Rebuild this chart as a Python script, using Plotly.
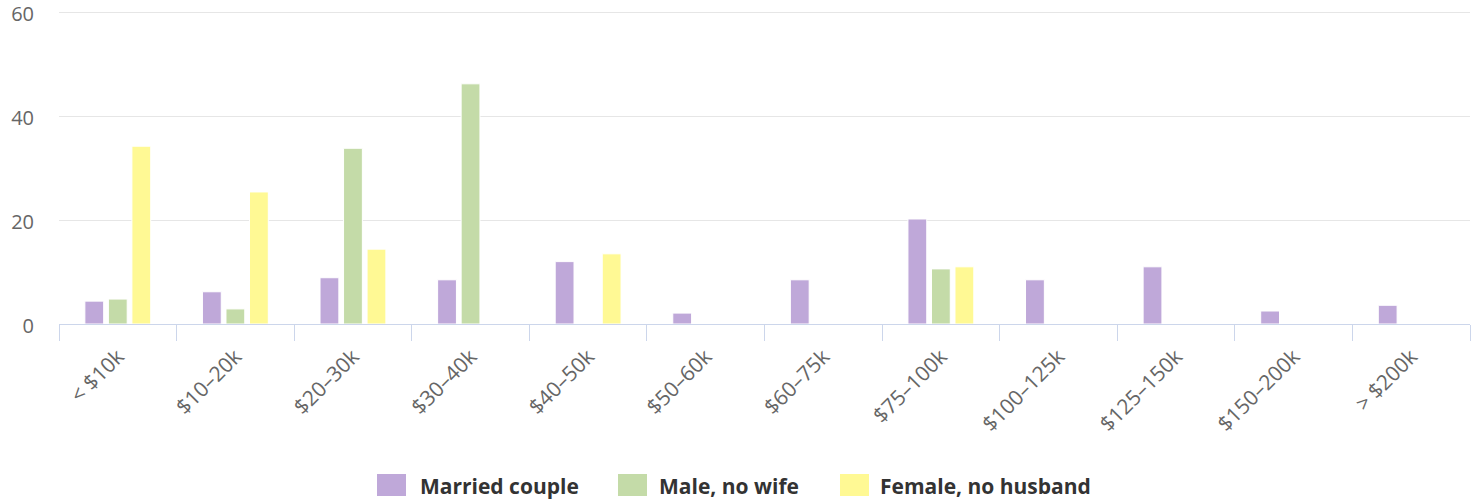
import plotly.graph_objects as go

categories = ["< $10k", "$10–20k", "$20–30k", "$30–40k", "$40–50k", "$50–60k",
              "$60–75k", "$75–100k", "$100–125k", "$125–150k", "$150–200k", "> $200k"]
married = [4.4, 6.2, 8.9, 8.5, 12.0, 2.1, 8.5, 20.2, 8.5, 11.0, 2.5, 3.6]
male_no_wife = [4.8, 2.9, 33.8, 46.2, 0, 0, 0, 10.6, 0, 0, 0, 0]
female_no_husband = [34.2, 25.4, 14.4, 0, 13.5, 0, 0, 11.0, 0, 0, 0, 0]
y_ticks = [0, 20, 40, 60]

series = [("Married couple", married, "#bfa8d9"),
          ("Male, no wife", male_no_wife, "#c4dba8"),
          ("Female, no husband", female_no_husband, "#fff994")]

W, H = 1472, 501
ML, MR, MT, MB = 59, 2, 10, 177
PW, PH = W - ML - MR, H - MT - MB

def px_x(p):
    return (p - ML) / PW

def px_y(p):
    return (H - MB - p) / PH

fig = go.Figure()
for name, vals, color in series:
    fig.add_trace(go.Bar(x=categories, y=vals, name=name, showlegend=False,
                         marker=dict(color=color, line=dict(color="white", width=1))))

# custom legend (large swatches like the reference)
legend_pos = [(377, 418), (618, 657), (840, 878)]
shapes, annotations = [], []
for (name, _, color), (sx, tx) in zip(series, legend_pos):
    shapes.append(dict(type="rect", xref="paper", yref="paper",
                       x0=px_x(sx), x1=px_x(sx + 29), y0=px_y(474), y1=px_y(496),
                       fillcolor=color, line=dict(width=0)))
    annotations.append(dict(xref="paper", yref="paper", x=px_x(tx), y=px_y(486),
                            xanchor="left", yanchor="middle", showarrow=False,
                            text=name, font=dict(size=21, color="#333333", weight="bold",
                                                 family="Open Sans, sans-serif")))

fig.update_layout(
    width=W, height=H,
    margin=dict(l=ML, r=MR, t=MT, b=MB),
    plot_bgcolor="white", paper_bgcolor="white",
    barmode="group", bargap=0.4, bargroupgap=0.2,
    font=dict(family="Open Sans, DejaVu Sans, sans-serif", color="#666666"),
    showlegend=False,
    shapes=shapes, annotations=annotations,
)
fig.update_xaxes(showline=True, linecolor="#ccd6eb", linewidth=1, automargin=False,
                 ticks="outside", tickson="boundaries", ticklen=16, tickcolor="#ccd6eb",
                 tickangle=-45, tickfont=dict(size=21, color="#666666"),
                 ticklabelstandoff=11, ticklabeloverflow="allow",
                 showgrid=False)
fig.update_yaxes(range=[0, 60.4], tickvals=y_ticks, showgrid=True, automargin=False,
                 gridcolor="#e6e6e6", gridwidth=1, zeroline=False,
                 tickfont=dict(size=20, color="#666666"), ticklabelstandoff=24,
                 ticklabelshift=2, ticklabeloverflow="allow", showline=False)

fig.write_html("out.html", config={"displayModeBar": False},
               post_script="document.body.style.margin='0';")
